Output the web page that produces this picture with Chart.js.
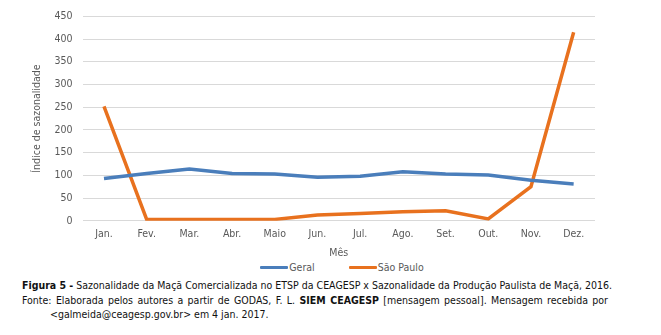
<!DOCTYPE html>
<html lang="pt-BR">
<head>
<meta charset="utf-8">
<title>Sazonalidade da Maçã</title>
<script src="https://cdn.jsdelivr.net/npm/chart.js@4/dist/chart.umd.min.js"></script>
<style>
    html, body { margin: 0; padding: 0; background: #fff; }
    body { width: 661px; height: 335px; position: relative; overflow: hidden; }
    #chartBox { position: absolute; left: 0; top: 0; width: 661px; height: 260px; }
    #chartLegend {
        position: absolute;
        left: 0; top: 260px; width: 684px;
        display: flex; justify-content: center;
        font-family: "DejaVu Sans Condensed", "DejaVu Sans", sans-serif;
        font-size: 10.5px; color: #595959; line-height: 14px;
    }
    #chartLegend .item { display: flex; align-items: center; margin: 0 17px; }
    #chartLegend .swatch { display: inline-block; width: 28px; height: 3px; margin-right: 1px; border-radius: 1px; }
    .legenda {
        position: absolute;
        left: 22px;
        width: 586px;
        font-family: "DejaVu Sans Condensed", "DejaVu Sans", sans-serif;
        font-size: 10.5px;
        color: #111;
        white-space: nowrap;
    }
    .justify { text-align: justify; text-align-last: justify; }
</style>
</head>
<body>
<div id="chartBox"><canvas id="mainChart"></canvas></div>
<div id="chartLegend"></div>
<div class="legenda" style="top:279px"><b>Figura 5 -</b> Sazonalidade da Maçã Comercializada no ETSP da CEAGESP x Sazonalidade da Produção Paulista de Maçã, 2016.</div>
<div class="legenda justify" style="top:294px">Fonte: Elaborada pelos autores a partir de GODAS, F. L. <b>SIEM CEAGESP</b> [mensagem pessoal]. Mensagem recebida por</div>
<div class="legenda" style="top:308px; left:50px">&lt;galmeida@ceagesp.gov.br&gt; em 4 jan. 2017.</div>

<script>
// Meses e índices de sazonalidade (2016)
const meses = ['Jan.', 'Fev.', 'Mar.', 'Abr.', 'Maio', 'Jun.', 'Jul.', 'Ago.', 'Set.', 'Out.', 'Nov.', 'Dez.'];
const indiceGeral = [93, 104, 114, 104, 103, 96, 98, 108, 103, 101, 89, 81];
const indiceSaoPaulo = [252, 3, 3, 3, 3, 13, 16, 20, 22, 4, 75, 415];
const yTicks = [0, 50, 100, 150, 200, 250, 300, 350, 400, 450];

const FONTE = '"DejaVu Sans Condensed", "DejaVu Sans", sans-serif';
const CINZA = '#595959';

let mainChartInstance = null;

function renderChart() {
    const ctx = document.getElementById('mainChart');

    const data = {
        labels: meses,
        datasets: [
            {
                label: 'Geral',
                data: indiceGeral,
                borderColor: '#4A7EBB',
                backgroundColor: '#4A7EBB',
                borderWidth: 3.5,
                pointRadius: 0,
                tension: 0
            },
            {
                label: 'São Paulo',
                data: indiceSaoPaulo,
                borderColor: '#E8711E',
                backgroundColor: '#E8711E',
                borderWidth: 3.5,
                pointRadius: 0,
                tension: 0
            }
        ]
    };

    const options = {
        responsive: true,
        maintainAspectRatio: false,
        animation: false,
        layout: {
            padding: { left: 27, right: 66, top: 0, bottom: 0 }
        },
        plugins: {
            legend: { display: false },
            tooltip: { enabled: false }
        },
        scales: {
            x: {
                offset: true,
                grid: { display: false, drawTicks: false },
                border: { display: false },
                ticks: {
                    color: CINZA,
                    padding: 7,
                    font: { family: FONTE, size: 10.5 }
                },
                title: {
                    display: true,
                    text: 'Mês',
                    color: CINZA,
                    padding: { top: 0, bottom: 0 },
                    font: { family: FONTE, size: 10.5 }
                }
            },
            y: {
                min: 0,
                max: 450,
                afterBuildTicks: axis => {
                    axis.ticks = yTicks.map(v => ({ value: v }));
                },
                grid: { color: '#D9D9D9', drawTicks: false },
                border: { display: false },
                ticks: {
                    color: CINZA,
                    padding: 10,
                    font: { family: FONTE, size: 10.5 }
                },
                title: {
                    display: true,
                    text: 'Índice de sazonalidade',
                    color: CINZA,
                    padding: { top: 4, bottom: 1 },
                    font: { family: FONTE, size: 10.5 }
                }
            }
        }
    };

    mainChartInstance = new Chart(ctx, { type: 'line', data: data, options: options });
    renderLegend(mainChartInstance);
}

// Legenda em HTML: traço colorido + nome da série
function renderLegend(chart) {
    const box = document.getElementById('chartLegend');
    box.innerHTML = chart.data.datasets.map(ds => `
        <span class="item">
            <span class="swatch" style="background:${ds.borderColor}"></span>${ds.label}
        </span>
    `).join('');
}

renderChart();
</script>
</body>
</html>
